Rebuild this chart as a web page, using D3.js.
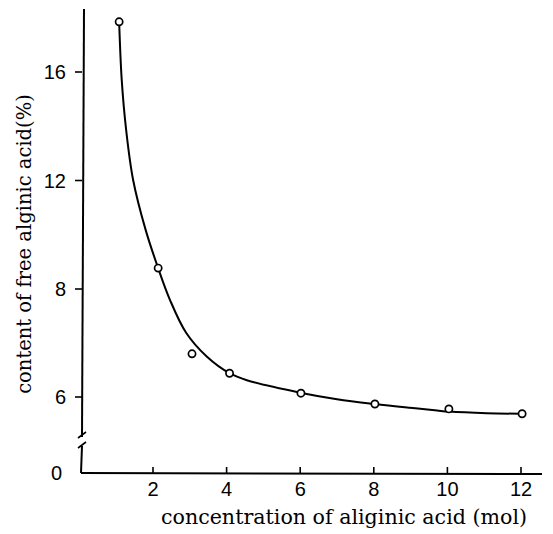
<!DOCTYPE html>
<html>
<head>
<meta charset="utf-8">
<script src="https://cdn.jsdelivr.net/npm/d3@7"></script>
<style>
  body { margin: 0; background: #fff; }
  svg { display: block; }
</style>
</head>
<body>
<div class="Graph"></div>
<script>
// measured points (concentration, content)
const concX = [1.08, 2.14, 3.06, 4.08, 6.02, 8.03, 10.04, 12.03];
const contentY = [17.85, 8.77, 6.8, 6.44, 6.07, 5.87, 5.78, 5.69];

// hand-drawn fitted curve (does not pass through the 3 mol point)
const fitX = [1.08, 1.15, 1.27, 1.46, 1.8, 2.14, 2.46, 2.9, 3.46, 4.08, 4.55, 6.0, 7.0, 8.03, 8.98, 9.72, 10.04, 11.07, 11.95];
const fitY = [17.85, 15.71, 13.87, 12.02, 10.18, 8.77, 7.8, 7.19, 6.75, 6.44, 6.31, 6.08, 5.96, 5.87, 5.8, 5.75, 5.73, 5.7, 5.69];

const xTicks = [2, 4, 6, 8, 10, 12];
const yTicks = [6, 8, 12, 16];
const yBreakTick = [0];

const W = 553, H = 534;

const svg = d3.select(".Graph")
  .append("svg")
  .attr("width", W)
  .attr("height", H);

const x = d3.scaleLinear()//x axis
  .domain([0, 12])
  .range([79.4, 521]);

// broken y axis: 6-8 is stretched, 8-16 compressed
const y = d3.scaleLinear()
  .domain([6, 8, 16])
  .range([397, 289, 72]);
// below the break only the 0 is shown
const yLow = d3.scaleLinear()
  .domain([0, 1])
  .range([473, 460]);

const axisX0 = 82;
const axisY0 = yLow(0);

// y axis line with break
svg.append("path")
  .attr("d", `M${axisX0 + 2},9 L${axisX0},437`)
  .attr("stroke", "#000").attr("stroke-width", 2).attr("fill", "none");
svg.append("path")
  .attr("d", `M${axisX0},446 L${axisX0 - 1},${axisY0}`)
  .attr("stroke", "#000").attr("stroke-width", 2).attr("fill", "none");
svg.append("path")//break marks
  .attr("d", `M${axisX0 - 4},438 L${axisX0 + 4},432 M${axisX0 - 4},448 L${axisX0 + 4},442`)
  .attr("stroke", "#000").attr("stroke-width", 1.6).attr("fill", "none");

// x axis line
svg.append("path")
  .attr("d", `M${axisX0 - 1},${axisY0} L542,${axisY0 + 1}`)
  .attr("stroke", "#000").attr("stroke-width", 2).attr("fill", "none");

// x ticks (inward)
svg.selectAll(".xtick")
  .data(xTicks)
  .enter()
  .append("line")
  .attr("class", "xtick")
  .attr("x1", d => x(d)).attr("x2", d => x(d))
  .attr("y1", axisY0).attr("y2", axisY0 - 6)
  .attr("stroke", "#000").attr("stroke-width", 1.6);
svg.selectAll(".xlab")
  .data(xTicks)
  .enter()
  .append("text")
  .attr("class", "xlab")
  .attr("x", d => x(d))
  .attr("y", 496)
  .attr("text-anchor", "middle")
  .style("font-family", "'Liberation Sans', Arial, sans-serif")
  .style("font-size", "20px")
  .text(d => d);

// y ticks (outward)
svg.selectAll(".ytick")
  .data(yTicks)
  .enter()
  .append("line")
  .attr("class", "ytick")
  .attr("x1", axisX0 - 7).attr("x2", axisX0)
  .attr("y1", d => y(d)).attr("y2", d => y(d))
  .attr("stroke", "#000").attr("stroke-width", 1.6);
svg.selectAll(".ylab")
  .data(yTicks)
  .enter()
  .append("text")
  .attr("class", "ylab")
  .attr("x", 66)
  .attr("y", d => y(d) + 7)
  .attr("text-anchor", "end")
  .style("font-family", "'Liberation Sans', Arial, sans-serif")
  .style("font-size", "20px")
  .text(d => d);
svg.selectAll(".ylab0")
  .data(yBreakTick)
  .enter()
  .append("text")
  .attr("class", "ylab0")
  .attr("x", 62)
  .attr("y", d => yLow(d) + 7)
  .attr("text-anchor", "end")
  .style("font-family", "'Liberation Sans', Arial, sans-serif")
  .style("font-size", "20px")
  .text(d => d);

// fitted curve
const line = d3.line()
  .x(d => x(d[0]))
  .y(d => y(d[1]))
  .curve(d3.curveCatmullRom.alpha(0.5));
svg.append("path")
  .datum(fitX.map((v, i) => [v, fitY[i]]))
  .attr("d", line)
  .attr("fill", "none")
  .attr("stroke", "#000")
  .attr("stroke-width", 2);

// points
svg.selectAll(".point")
  .data(concX.map((v, i) => [v, contentY[i]]))
  .enter()
  .append("circle")
  .attr("class", "point")
  .attr("cx", d => x(d[0]))
  .attr("cy", d => y(d[1]))
  .attr("r", 3.6)
  .attr("fill", "#fff")
  .attr("stroke", "#000")
  .attr("stroke-width", 1.7);

// axis titles
svg.append("text")
  .attr("x", 344)
  .attr("y", 524)
  .attr("text-anchor", "middle")
  .style("font-family", "'DejaVu Serif', 'Liberation Serif', serif")
  .style("font-size", "20.6px")
  .text("concentration of aliginic acid (mol)");

svg.append("text")
  .attr("transform", "translate(31,244) rotate(-90)")
  .attr("text-anchor", "middle")
  .style("font-family", "'DejaVu Serif', 'Liberation Serif', serif")
  .style("font-size", "19.5px")
  .text("content of free alginic acid(%)");
</script>
</body>
</html>
